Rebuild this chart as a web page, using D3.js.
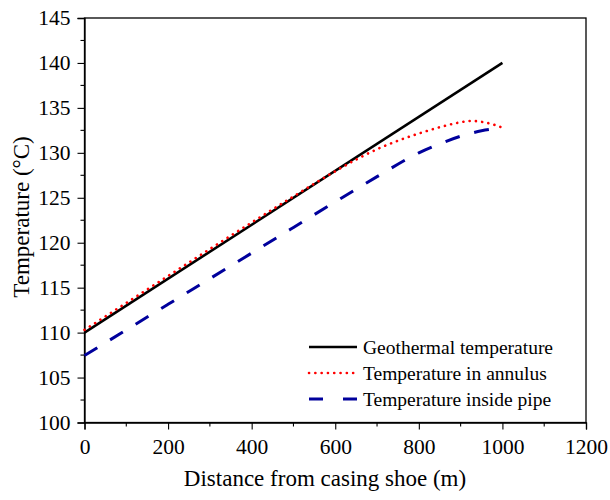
<!DOCTYPE html>
<html><head><meta charset="utf-8">
<script src="https://cdn.jsdelivr.net/npm/d3@7"></script>
<style>body{margin:0;background:#fff}svg{display:block}</style>
</head><body><svg id="c" width="610" height="500"></svg>
<script>
const geoX = [0, 1000];
const geoY = [110, 140];
const annX = [0, 100, 200, 300, 400, 500, 600, 650, 700, 750, 800, 850, 900, 925, 950, 975, 1000];
const annY = [110.3, 113.3, 116.3, 119.3, 122.25, 125.15, 127.95, 129.25, 130.4, 131.35, 132.15, 132.85, 133.4, 133.55, 133.45, 133.2, 132.8];
const pipeX = [0, 100, 200, 300, 400, 500, 600, 700, 800, 850, 900, 950, 1000];
const pipeY = [107.45, 110.3, 113.15, 116.0, 118.85, 121.7, 124.55, 127.35, 130.0, 131.0, 131.85, 132.45, 132.75];
const xTicks = [0, 200, 400, 600, 800, 1000, 1200];
const yTicks = [100, 105, 110, 115, 120, 125, 130, 135, 140, 145];
const seriesNames = ["Geothermal temperature", "Temperature in annulus", "Temperature inside pipe"];

const FONT = '"Liberation Serif", Tinos, "Times New Roman", serif';
const svg = d3.select("#c");
const L = 84.5, R = 586, T = 18, B = 422.5;
const x = d3.scaleLinear().domain([0, 1200]).range([L, R]);
const y = d3.scaleLinear().domain([100, 145]).range([B, T]);

// frame
svg.append("rect").attr("x", L).attr("y", T).attr("width", R - L).attr("height", B - T)
  .attr("fill", "none").attr("stroke", "#000").attr("stroke-width", 1.3);

// minor ticks
const xMinor = d3.range(100, 1200, 200);
const yMinor = d3.range(102.5, 145, 5);
svg.append("g").selectAll("line").data(xMinor).join("line")
  .attr("x1", d => x(d)).attr("x2", d => x(d)).attr("y1", B).attr("y2", B + 4)
  .attr("stroke", "#000").attr("stroke-width", 1.1);
svg.append("g").selectAll("line").data(yMinor).join("line")
  .attr("y1", d => y(d)).attr("y2", d => y(d)).attr("x1", L).attr("x2", L - 4)
  .attr("stroke", "#000").attr("stroke-width", 1.1);

const xAxis = svg.append("g").attr("transform", `translate(0,${B})`)
  .call(d3.axisBottom(x).tickValues(xTicks).tickSize(7).tickPadding(9).tickFormat(d3.format("d")));
const yAxis = svg.append("g").attr("transform", `translate(${L},0)`)
  .call(d3.axisLeft(y).tickValues(yTicks).tickSize(7).tickPadding(7).tickFormat(d3.format("d")));
[xAxis, yAxis].forEach(g => {
  g.style("font-family", FONT);
  g.select(".domain").attr("stroke", "#000").attr("stroke-width", 1.3);
  g.selectAll(".tick line").attr("stroke", "#000").attr("stroke-width", 1.1);
  g.selectAll("text").style("font-family", FONT).style("font-size", "21.5px").attr("fill", "#000");
});

const line = d3.line().x(d => x(d[0])).y(d => y(d[1]));
const curve = d3.line().x(d => x(d[0])).y(d => y(d[1])).curve(d3.curveMonotoneX);
const geo = geoX.map((v, i) => [v, geoY[i]]);
const ann = annX.map((v, i) => [v, annY[i]]);
const pipe = pipeX.map((v, i) => [v, pipeY[i]]);

const styles = [
  {stroke: "#000", width: 2.6, dash: null, cap: "butt"},
  {stroke: "#ff0000", width: 2.6, dash: "0.1,6.2", cap: "round"},
  {stroke: "#00009c", width: 3, dash: "15,15", cap: "butt"}
];
svg.append("path").datum(geo).attr("d", line).attr("fill", "none")
  .attr("stroke", styles[0].stroke).attr("stroke-width", styles[0].width);
svg.append("path").datum(ann).attr("d", curve).attr("fill", "none")
  .attr("stroke", styles[1].stroke).attr("stroke-width", styles[1].width)
  .attr("stroke-dasharray", styles[1].dash).attr("stroke-linecap", styles[1].cap);
svg.append("path").datum(pipe).attr("d", curve).attr("fill", "none")
  .attr("stroke", styles[2].stroke).attr("stroke-width", styles[2].width)
  .attr("stroke-dasharray", styles[2].dash);

// legend
const lg = svg.append("g");
seriesNames.forEach((name, i) => {
  const ly = 347 + i * 26;
  lg.append("line").attr("x1", 309).attr("x2", 357).attr("y1", ly).attr("y2", ly)
    .attr("stroke", styles[i].stroke).attr("stroke-width", styles[i].width)
    .attr("stroke-dasharray", i === 2 ? "14,20" : styles[i].dash).attr("stroke-linecap", styles[i].cap);
  lg.append("text").attr("x", 363).attr("y", ly + 7)
    .style("font-family", FONT).style("font-size", "19.5px").attr("fill", "#000").text(name);
});

// axis titles
svg.append("text").attr("x", 325).attr("y", 486).attr("text-anchor", "middle")
  .style("font-family", FONT).style("font-size", "23px").attr("fill", "#000")
  .text("Distance from casing shoe (m)");
svg.append("text").attr("transform", `translate(29,217)rotate(-90)`).attr("text-anchor", "middle")
  .style("font-family", FONT).style("font-size", "23px").attr("fill", "#000")
  .text("Temperature (°C)");
</script></body></html>
